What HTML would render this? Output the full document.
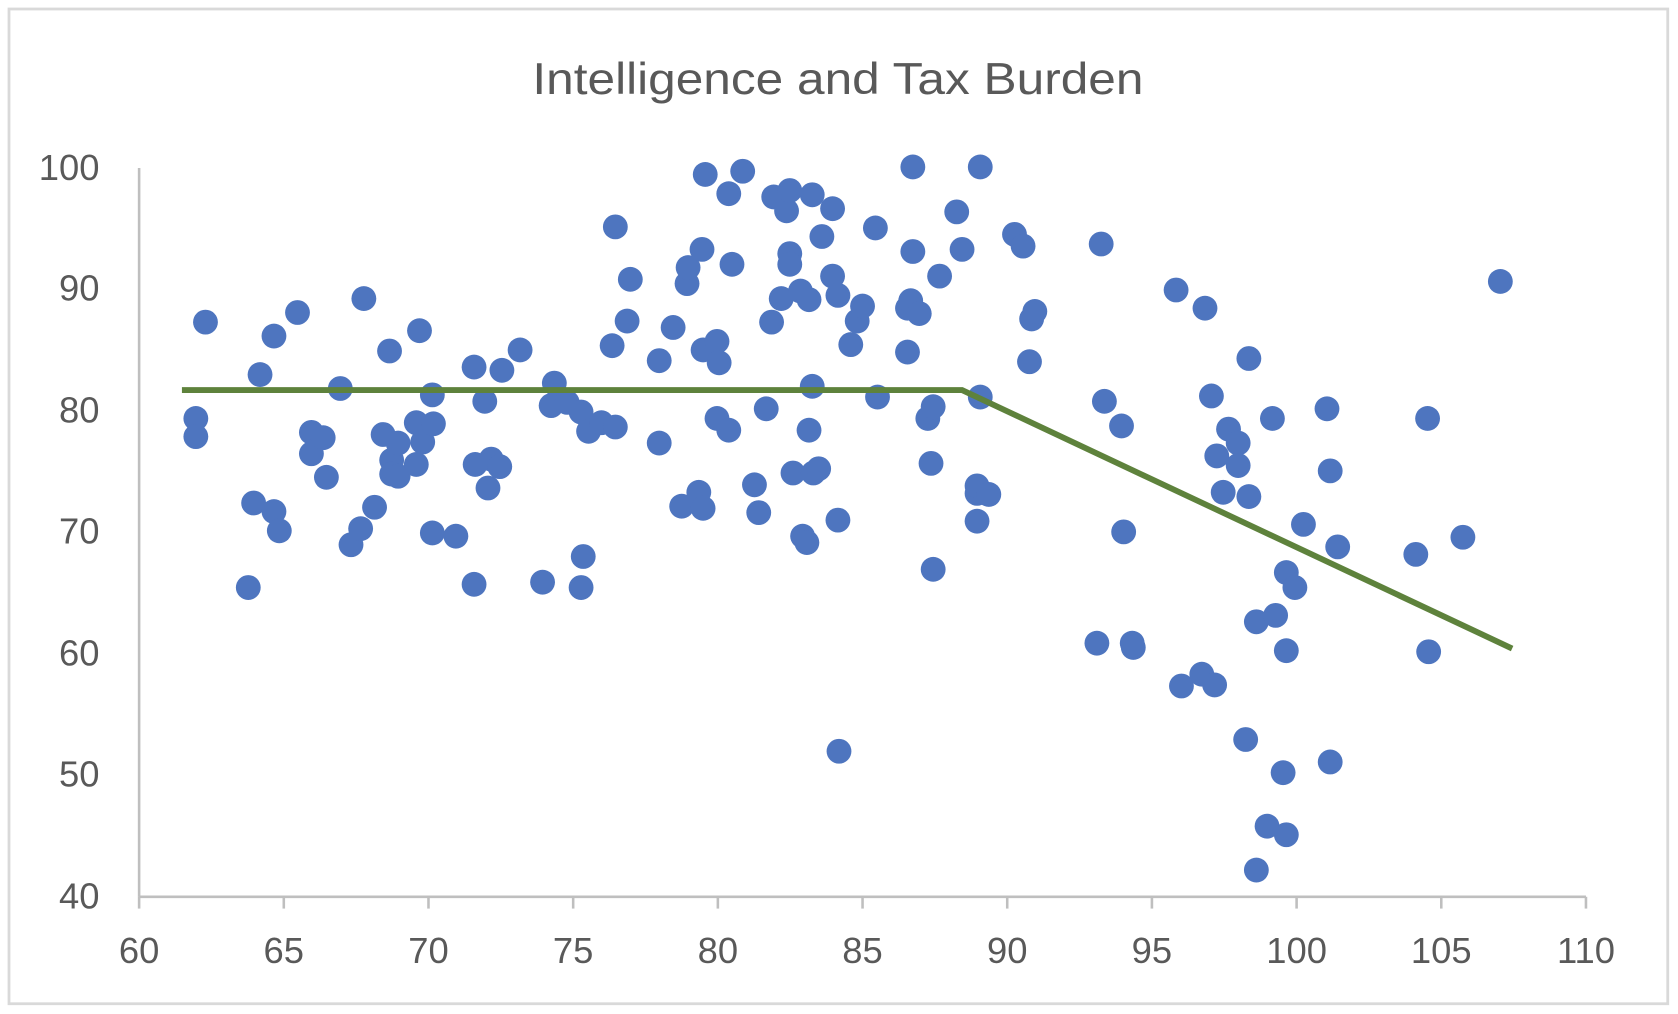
<!DOCTYPE html>
<html><head><meta charset="utf-8"><style>
html,body{margin:0;padding:0;background:#fff;width:1678px;height:1014px;overflow:hidden}
svg{position:absolute;left:0;top:0}
</style></head><body>
<svg width="1678" height="1014" viewBox="0 0 1568 947.5" preserveAspectRatio="none" xmlns="http://www.w3.org/2000/svg">
<rect x="8.4" y="8.4" width="1550" height="929.5" fill="none" stroke="#d9d9d9" stroke-width="2.6"/>
<text x="783" y="88" text-anchor="middle" font-family="Liberation Sans, sans-serif" font-size="42" fill="#595959" textLength="571" lengthAdjust="spacingAndGlyphs">Intelligence and Tax Burden</text>
<g stroke="#bfbfbf" stroke-width="2.4" fill="none">
<line x1="130" y1="157" x2="130" y2="838"/>
<line x1="130" y1="838" x2="1482" y2="838"/>
<line x1="130" y1="838" x2="130" y2="849"/><line x1="265.2" y1="838" x2="265.2" y2="849"/><line x1="400.4" y1="838" x2="400.4" y2="849"/><line x1="535.6" y1="838" x2="535.6" y2="849"/><line x1="670.8" y1="838" x2="670.8" y2="849"/><line x1="806" y1="838" x2="806" y2="849"/><line x1="941.2" y1="838" x2="941.2" y2="849"/><line x1="1076.4" y1="838" x2="1076.4" y2="849"/><line x1="1211.6" y1="838" x2="1211.6" y2="849"/><line x1="1346.8" y1="838" x2="1346.8" y2="849"/><line x1="1482" y1="838" x2="1482" y2="849"/>
</g>
<g font-family="Liberation Sans, sans-serif" font-size="34" fill="#595959" text-anchor="end">
<text x="93" y="168">100</text><text x="93" y="281">90</text><text x="93" y="395">80</text><text x="93" y="508">70</text><text x="93" y="622">60</text><text x="93" y="735">50</text><text x="93" y="849">40</text>
</g>
<g font-family="Liberation Sans, sans-serif" font-size="34" fill="#595959" text-anchor="middle">
<text x="130" y="900">60</text><text x="265.2" y="900">65</text><text x="400.4" y="900">70</text><text x="535.6" y="900">75</text><text x="670.8" y="900">80</text><text x="806" y="900">85</text><text x="941.2" y="900">90</text><text x="1076.4" y="900">95</text><text x="1211.6" y="900">100</text><text x="1346.8" y="900">105</text><text x="1482" y="900">110</text>
</g>
<g fill="#4e75bf">
<circle cx="183" cy="391" r="11.6"/><circle cx="183" cy="408" r="11.6"/><circle cx="192" cy="301" r="11.6"/><circle cx="232" cy="549" r="11.6"/><circle cx="237" cy="470" r="11.6"/><circle cx="243" cy="350" r="11.6"/><circle cx="256" cy="314" r="11.6"/><circle cx="256" cy="478" r="11.6"/><circle cx="261" cy="496" r="11.6"/><circle cx="278" cy="292" r="11.6"/>
<circle cx="291" cy="404" r="11.6"/><circle cx="291" cy="424" r="11.6"/><circle cx="302" cy="409" r="11.6"/><circle cx="305" cy="446" r="11.6"/><circle cx="318" cy="363" r="11.6"/><circle cx="328" cy="509" r="11.6"/><circle cx="337" cy="494" r="11.6"/><circle cx="340" cy="279" r="11.6"/><circle cx="350" cy="474" r="11.6"/><circle cx="358" cy="406" r="11.6"/>
<circle cx="364" cy="328" r="11.6"/><circle cx="366" cy="430" r="11.6"/><circle cx="366" cy="443" r="11.6"/><circle cx="372" cy="445" r="11.6"/><circle cx="372" cy="414" r="11.6"/><circle cx="389" cy="434" r="11.6"/><circle cx="389" cy="395" r="11.6"/><circle cx="392" cy="309" r="11.6"/><circle cx="395" cy="413" r="11.6"/><circle cx="404" cy="369" r="11.6"/>
<circle cx="404" cy="498" r="11.6"/><circle cx="405" cy="396" r="11.6"/><circle cx="426" cy="501" r="11.6"/><circle cx="443" cy="343" r="11.6"/><circle cx="444" cy="434" r="11.6"/><circle cx="443" cy="546" r="11.6"/><circle cx="453" cy="375" r="11.6"/><circle cx="456" cy="456" r="11.6"/><circle cx="459" cy="429" r="11.6"/><circle cx="467" cy="436" r="11.6"/>
<circle cx="469" cy="346" r="11.6"/><circle cx="486" cy="327" r="11.6"/><circle cx="507" cy="544" r="11.6"/><circle cx="515" cy="379" r="11.6"/><circle cx="518" cy="358" r="11.6"/><circle cx="530" cy="376" r="11.6"/><circle cx="543" cy="385" r="11.6"/><circle cx="543" cy="549" r="11.6"/><circle cx="545" cy="520" r="11.6"/><circle cx="550" cy="403" r="11.6"/>
<circle cx="562" cy="395" r="11.6"/><circle cx="572" cy="323" r="11.6"/><circle cx="575" cy="212" r="11.6"/><circle cx="575" cy="399" r="11.6"/><circle cx="586" cy="300" r="11.6"/><circle cx="589" cy="261" r="11.6"/><circle cx="616" cy="337" r="11.6"/><circle cx="616" cy="414" r="11.6"/><circle cx="629" cy="306" r="11.6"/><circle cx="637" cy="473" r="11.6"/>
<circle cx="642" cy="265" r="11.6"/><circle cx="643" cy="250" r="11.6"/><circle cx="653" cy="460" r="11.6"/><circle cx="656" cy="233" r="11.6"/><circle cx="657" cy="327" r="11.6"/><circle cx="657" cy="475" r="11.6"/><circle cx="659" cy="163" r="11.6"/><circle cx="670" cy="319" r="11.6"/><circle cx="672" cy="339" r="11.6"/><circle cx="670" cy="391" r="11.6"/>
<circle cx="681" cy="402" r="11.6"/><circle cx="681" cy="181" r="11.6"/><circle cx="684" cy="247" r="11.6"/><circle cx="694" cy="160" r="11.6"/><circle cx="705" cy="453" r="11.6"/><circle cx="709" cy="479" r="11.6"/><circle cx="716" cy="382" r="11.6"/><circle cx="721" cy="301" r="11.6"/><circle cx="723" cy="184" r="11.6"/><circle cx="730" cy="279" r="11.6"/>
<circle cx="735" cy="197" r="11.6"/><circle cx="738" cy="178" r="11.6"/><circle cx="738" cy="237" r="11.6"/><circle cx="738" cy="247" r="11.6"/><circle cx="741" cy="442" r="11.6"/><circle cx="748" cy="272" r="11.6"/><circle cx="750" cy="501" r="11.6"/><circle cx="754" cy="507" r="11.6"/><circle cx="756" cy="280" r="11.6"/><circle cx="756" cy="402" r="11.6"/>
<circle cx="759" cy="182" r="11.6"/><circle cx="759" cy="361" r="11.6"/><circle cx="760" cy="442" r="11.6"/><circle cx="765" cy="438" r="11.6"/><circle cx="768" cy="221" r="11.6"/><circle cx="778" cy="195" r="11.6"/><circle cx="778" cy="258" r="11.6"/><circle cx="783" cy="276" r="11.6"/><circle cx="783" cy="486" r="11.6"/><circle cx="784" cy="702" r="11.6"/>
<circle cx="795" cy="322" r="11.6"/><circle cx="801" cy="300" r="11.6"/><circle cx="806" cy="286" r="11.6"/><circle cx="818" cy="213" r="11.6"/><circle cx="820" cy="371" r="11.6"/><circle cx="848" cy="329" r="11.6"/><circle cx="848" cy="288" r="11.6"/><circle cx="851" cy="281" r="11.6"/><circle cx="853" cy="235" r="11.6"/><circle cx="853" cy="156" r="11.6"/>
<circle cx="859" cy="293" r="11.6"/><circle cx="867" cy="391" r="11.6"/><circle cx="870" cy="433" r="11.6"/><circle cx="872" cy="380" r="11.6"/><circle cx="872" cy="532" r="11.6"/><circle cx="878" cy="258" r="11.6"/><circle cx="894" cy="198" r="11.6"/><circle cx="899" cy="233" r="11.6"/><circle cx="913" cy="487" r="11.6"/><circle cx="913" cy="461" r="11.6"/>
<circle cx="913" cy="454" r="11.6"/><circle cx="916" cy="156" r="11.6"/><circle cx="916" cy="371" r="11.6"/><circle cx="924" cy="462" r="11.6"/><circle cx="948" cy="219" r="11.6"/><circle cx="956" cy="230" r="11.6"/><circle cx="962" cy="338" r="11.6"/><circle cx="964" cy="298" r="11.6"/><circle cx="967" cy="291" r="11.6"/><circle cx="1025" cy="601" r="11.6"/>
<circle cx="1029" cy="228" r="11.6"/><circle cx="1032" cy="375" r="11.6"/><circle cx="1048" cy="398" r="11.6"/><circle cx="1050" cy="497" r="11.6"/><circle cx="1058" cy="601" r="11.6"/><circle cx="1059" cy="605" r="11.6"/><circle cx="1099" cy="271" r="11.6"/><circle cx="1104" cy="641" r="11.6"/><circle cx="1123" cy="630" r="11.6"/><circle cx="1126" cy="288" r="11.6"/>
<circle cx="1132" cy="370" r="11.6"/><circle cx="1135" cy="640" r="11.6"/><circle cx="1137" cy="426" r="11.6"/><circle cx="1143" cy="460" r="11.6"/><circle cx="1148" cy="401" r="11.6"/><circle cx="1157" cy="414" r="11.6"/><circle cx="1157" cy="435" r="11.6"/><circle cx="1164" cy="691" r="11.6"/><circle cx="1167" cy="335" r="11.6"/><circle cx="1167" cy="464" r="11.6"/>
<circle cx="1174" cy="581" r="11.6"/><circle cx="1174" cy="813" r="11.6"/><circle cx="1184" cy="772" r="11.6"/><circle cx="1189" cy="391" r="11.6"/><circle cx="1192" cy="575" r="11.6"/><circle cx="1199" cy="722" r="11.6"/><circle cx="1202" cy="608" r="11.6"/><circle cx="1202" cy="535" r="11.6"/><circle cx="1202" cy="780" r="11.6"/><circle cx="1210" cy="549" r="11.6"/>
<circle cx="1218" cy="490" r="11.6"/><circle cx="1240" cy="382" r="11.6"/><circle cx="1243" cy="712" r="11.6"/><circle cx="1243" cy="440" r="11.6"/><circle cx="1250" cy="511" r="11.6"/><circle cx="1323" cy="518" r="11.6"/><circle cx="1334" cy="391" r="11.6"/><circle cx="1335" cy="609" r="11.6"/><circle cx="1367" cy="502" r="11.6"/><circle cx="1402" cy="263" r="11.6"/>
</g>
<polyline points="170,364.5 899,364.5 1413,606" fill="none" stroke="#5e823c" stroke-width="5.5"/>
</svg>
</body></html>
